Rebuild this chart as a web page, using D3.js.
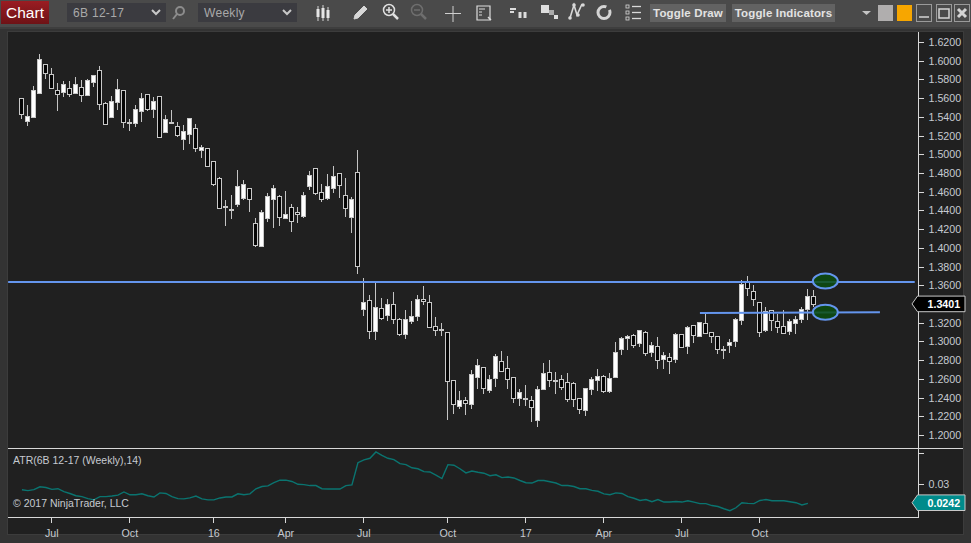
<!DOCTYPE html>
<html><head><meta charset="utf-8">
<script src="https://cdn.jsdelivr.net/npm/d3@7"></script>
<style>
html,body{margin:0;padding:0;background:#333;overflow:hidden}
svg{display:block}
text{font-family:"Liberation Sans",Arial,sans-serif}
</style></head><body><svg id="c" width="971" height="543"></svg>
<script>
const opens=[1.5606,1.5361,1.5404,1.5656,1.5970,1.5863,1.5692,1.5671,1.5713,1.5660,1.5724,1.5635,1.5777,1.5906,1.5553,1.5400,1.5564,1.5692,1.5343,1.5340,1.5468,1.5639,1.5485,1.5628,1.5240,1.5350,1.5297,1.5169,1.5222,1.5286,1.5051,1.5072,1.4923,1.4744,
1.4445,1.4412,1.4466,1.4526,1.4637,1.4263,1.4017,1.4316,1.4519,1.4551,1.4327,1.4434,1.4380,1.4334,1.4658,1.4850,1.4594,1.4526,1.4637,1.4797,1.4562,1.4324,1.4808,1.3345,1.3441,1.3110,1.3355,1.3280,1.3398,1.3238,1.3078,1.3227,1.3270,1.3451,1.3419,1.3163,
1.3130,1.3098,1.2585,1.2308,1.2372,1.2329,1.2617,1.2724,1.2475,1.2607,1.2788,1.2714,1.2617,1.2393,1.2397,1.2372,1.2158,1.2489,1.2671,1.2585,1.2596,1.2564,1.2553,1.2393,1.2265,1.2489,1.2585,1.2628,1.2464,1.2617,1.2917,1.3034,
1.3066,1.2980,1.3098,1.2888,1.2948,1.2810,1.2831,1.2806,1.3076,1.2948,1.3173,1.3055,1.3194,1.3098,1.3055,1.2916,1.2959,1.3002,1.3226,1.3632,1.3536,1.3418,1.3119,1.3333,1.3215,1.3162,1.3109,1.3194,1.3237,1.3344,1.3482];
const highs=[1.5606,1.5532,1.5727,1.6069,1.5970,1.5920,1.5763,1.5781,1.5781,1.5824,1.5792,1.5802,1.5852,1.5941,1.5557,1.5621,1.5802,1.5692,1.5382,1.5525,1.5653,1.5639,1.5617,1.5628,1.5418,1.5478,1.5340,1.5311,1.5393,1.5329,1.5094,1.5072,1.4923,1.4754,
1.4509,1.4562,1.4829,1.4722,1.4637,1.4316,1.4402,1.4583,1.4669,1.4562,1.4608,1.4466,1.4434,1.4594,1.4818,1.4850,1.4680,1.4790,1.4872,1.4797,1.4747,1.4541,1.5046,1.3676,1.3494,1.3650,1.3462,1.3451,1.3526,1.3248,1.3334,1.3430,1.3494,1.3594,1.3494,1.3262,
1.3198,1.3098,1.2585,1.2468,1.2407,1.2696,1.2813,1.2724,1.2639,1.2863,1.2899,1.2845,1.2617,1.2493,1.2532,1.2418,1.2521,1.2771,1.2803,1.2671,1.2639,1.2664,1.2564,1.2393,1.2500,1.2617,1.2706,1.2639,1.2664,1.2995,1.3045,1.3070,
1.3076,1.3119,1.3109,1.2991,1.3045,1.2884,1.2874,1.3087,1.3076,1.3162,1.3173,1.3205,1.3301,1.3098,1.3055,1.2948,1.3023,1.3247,1.3657,1.3700,1.3603,1.3422,1.3368,1.3336,1.3290,1.3333,1.3237,1.3269,1.3365,1.3557,1.3546];
const lows=[1.5375,1.5304,1.5404,1.5646,1.5802,1.5699,1.5464,1.5610,1.5614,1.5660,1.5557,1.5624,1.5717,1.5471,1.5315,1.5389,1.5471,1.5279,1.5247,1.5290,1.5343,1.5461,1.5386,1.5172,1.5226,1.5332,1.5183,1.5044,1.5108,1.5023,1.4959,1.4877,1.4660,1.4423,
1.4238,1.4313,1.4441,1.4512,1.4388,1.4014,1.4014,1.4281,1.4217,1.4238,1.4327,1.4174,1.4270,1.4324,1.4619,1.4569,1.4491,1.4512,1.4591,1.4537,1.4331,1.4163,1.3722,1.3277,1.3021,1.3010,1.3227,1.3216,1.3181,1.3063,1.3021,1.3191,1.3213,1.3384,1.3142,1.3062,
1.3062,1.2162,1.2226,1.2283,1.2219,1.2279,1.2493,1.2440,1.2450,1.2514,1.2671,1.2493,1.2343,1.2311,1.2311,1.2140,1.2087,1.2489,1.2514,1.2440,1.2482,1.2354,1.2301,1.2226,1.2205,1.2429,1.2472,1.2450,1.2450,1.2607,1.2852,1.2909,
1.2927,1.2941,1.2845,1.2834,1.2706,1.2706,1.2653,1.2770,1.2927,1.2867,1.2980,1.3044,1.3076,1.2980,1.2867,1.2813,1.2874,1.2938,1.3176,1.3486,1.3379,1.3048,1.3098,1.3112,1.3087,1.3076,1.3069,1.3080,1.3198,1.3230,1.3365];
const closes=[1.5436,1.5411,1.5692,1.6023,1.5873,1.5713,1.5646,1.5756,1.5646,1.5756,1.5639,1.5799,1.5852,1.5542,1.5325,1.5574,1.5703,1.5350,1.5340,1.5485,1.5606,1.5478,1.5574,1.5186,1.5382,1.5347,1.5197,1.5254,1.5393,1.5072,1.5080,1.4877,1.4674,1.4423,
1.4441,1.4402,1.4658,1.4680,1.4519,1.4028,1.4380,1.4551,1.4637,1.4324,1.4366,1.4284,1.4359,1.4562,1.4776,1.4580,1.4519,1.4658,1.4765,1.4669,1.4420,1.4519,1.3804,1.3419,1.3110,1.3366,1.3248,1.3398,1.3238,1.3078,1.3238,1.3277,1.3451,1.3430,1.3152,1.3120,
1.3119,1.2575,1.2329,1.2372,1.2340,1.2650,1.2746,1.2500,1.2596,1.2842,1.2685,1.2596,1.2393,1.2457,1.2393,1.2294,1.2489,1.2660,1.2585,1.2575,1.2511,1.2383,1.2383,1.2276,1.2500,1.2596,1.2628,1.2468,1.2607,1.2884,1.3034,1.3055,
1.2959,1.3119,1.2874,1.2959,1.2799,1.2852,1.2788,1.3076,1.2938,1.3151,1.3066,1.3205,1.3087,1.3055,1.2916,1.2913,1.2991,1.3237,1.3610,1.3568,1.3450,1.3098,1.3322,1.3226,1.3151,1.3087,1.3215,1.3237,1.3344,1.3482,1.3401];
const atr=[.0283,.0280,.0283,.0292,.0290,.0284,.0286,.0277,.0271,.0264,.0261,.0255,.0251,.0261,.0261,.0263,.0266,.0276,.0267,.0267,.0270,.0264,.0260,.0273,.0271,.0261,.0255,.0254,.0257,.0263,.0254,.0251,.0251,.0257,.0260,.0260,.0270,.0267,.0270,.0286,.0293,.0295,.0305,.0313,.0313,.0309,.0300,.0299,.0296,.0296,.0286,.0285,.0285,.0285,.0296,.0298,.0368,.0377,.0382,.0402,.0391,.0382,.0378,.0365,.0362,.0352,.0349,.0340,.0339,.0329,.0318,.0362,.0360,.0349,.0336,.0342,.0338,
.0335,.0327,.0330,.0321,.0323,.0320,.0312,.0305,.0304,.0312,.0312,.0308,.0304,.0296,.0296,.0293,.0286,.0286,.0281,.0278,.0270,.0267,.0273,.0271,.0261,.0256,.0249,.0252,.0245,.0252,.0244,.0244,.0246,.0244,.0248,.0244,.0239,.0239,.0233,.0230,.0223,.0217,.0226,.0242,.0240,.0239,.0249,.0252,.0248,.0248,.0248,.0245,.0242,.0235,.0240];
const timeTickIdx=[5,18,32,44,57,71,84,97,110,123];
const timeLabels=["Jul","Oct","16","Apr","Jul","Oct","17","Apr","Jul","Oct"];
const priceTicks=[1.2,1.22,1.24,1.26,1.28,1.3,1.32,1.36,1.38,1.4,1.42,1.44,1.46,1.48,1.5,1.52,1.54,1.56,1.58,1.6,1.62];
const atrTicks=[0.03,0.04];
const lastPrice=1.3401, lastAtr=0.0242;
const hLines=[{i0:-2.2,i1:148.9,p0:1.3636,p1:1.3636},{i0:113.1,i1:143.1,p0:1.3303,p1:1.3313}];
const markers=[{i:134,p:1.3645},{i:134,p:1.3312}];
const toolbarTexts={chart:"Chart",symbol:"6B 12-17",period:"Weekly",draw:"Toggle Draw",ind:"Toggle Indicators"};
const atrTitle="ATR(6B 12-17 (Weekly),14)", copyright="© 2017 NinjaTrader, LLC";

const svg=d3.select("#c");
const W=971,H=543;
const x=d3.scaleLinear().domain([0,132]).range([21.33,813.33]);
const y=d3.scaleLinear().domain([1.2,1.62]).range([435,42]);
const ya=d3.scaleLinear().domain([0.0242,0.03]).range([502.7,484.3]);
const axisC="#d8d8d8", txtC="#c6cad0";

// frame
svg.append("rect").attr("width",W).attr("height",H).attr("fill","#333333");
svg.append("rect").attr("width",W).attr("height",27).attr("fill","#4a4a4a");
svg.append("rect").attr("x",0).attr("y",27).attr("width",W).attr("height",2).attr("fill","#3e3e3e");
svg.append("rect").attr("x",7).attr("y",31).attr("width",W-14).attr("height",504).attr("fill","#202020");
svg.append("rect").attr("x",7.5).attr("y",31.5).attr("width",W-15).attr("height",503).attr("fill","none").attr("stroke","#3c3c3c");

// toolbar
const defs=svg.append("defs");
const g=defs.append("linearGradient").attr("id","red").attr("x1",0).attr("x2",0).attr("y1",0).attr("y2",1);
g.append("stop").attr("offset",0).attr("stop-color","#9a1c22");g.append("stop").attr("offset",1).attr("stop-color","#6e1216");
const tb=svg.append("g");
tb.append("rect").attr("x",1).attr("y",1).attr("width",48).attr("height",23).attr("fill","url(#red)");
tb.append("text").attr("x",25).attr("y",18).attr("text-anchor","middle").attr("font-size",15.5).attr("fill","#fff").text(toolbarTexts.chart);
[[67,166,73,toolbarTexts.symbol],[198,297,204,toolbarTexts.period]].forEach(([a,b,t,s])=>{
  tb.append("rect").attr("x",a).attr("y",3).attr("width",b-a).attr("height",19).attr("fill","#3b3b40");
  tb.append("text").attr("x",t).attr("y",17).attr("font-size",12).attr("fill","#a9a9a9").attr("letter-spacing",.3).text(s);
  tb.append("path").attr("d",`M${b-14} 10l4 4 4-4`).attr("fill","none").attr("stroke","#c8c8c8").attr("stroke-width",2);
});
const ic=(d,o={})=>tb.append("path").attr("d",d).attr("fill",o.f||"none").attr("stroke",o.s||"#d4d4d4").attr("stroke-width",o.w||1.5);
// search
tb.append("circle").attr("cx",180).attr("cy",11).attr("r",4).attr("fill","none").attr("stroke","#8c8c8c").attr("stroke-width",2);ic("M177 14l-4 5",{s:"#8c8c8c",w:2});
// candles icon
ic("M318 6v15M323 5v16M328 7v14",{w:1});ic("M318 9v8M323 8v10M328 10v8",{w:3,s:"#e6e6e6"});
// pencil
ic("M354 19l1-4 9-9 3 3-9 9z",{f:"#d8d8d8",w:1});
// zoom in/out
tb.append("circle").attr("cx",389).attr("cy",10).attr("r",5.5).attr("fill","none").attr("stroke","#e0e0e0").attr("stroke-width",1.5);ic("M393 14l5 5",{s:"#e0e0e0",w:2.5});ic("M386 10h6M389 7v6",{s:"#e0e0e0"});
tb.append("circle").attr("cx",417).attr("cy",10).attr("r",5.5).attr("fill","none").attr("stroke","#6e6e6e").attr("stroke-width",1.5);ic("M421 14l5 5",{s:"#6e6e6e",w:2.5});ic("M414 10h6",{s:"#6e6e6e"});
// crosshair
ic("M445 13.5h16M453 6v16",{s:"#cfcfcf",w:1});
// report
ic("M477 6h13v14h-13z",{s:"#dcdcdc",w:1.2});ic("M479 9h6M479 12h3M479 15h3",{s:"#dcdcdc",w:1});ic("M488 17l3 3",{s:"#dcdcdc",w:1.5});
// properties
ic("M510 9h6M510 12h4",{s:"#dcdcdc",w:2});ic("M520 12v6M525 12v6",{s:"#dcdcdc",w:3});
// squares
tb.append("rect").attr("x",541).attr("y",5).attr("width",8).attr("height",8).attr("fill","#dedede");tb.append("rect").attr("x",549).attr("y",10).attr("width",5).attr("height",5).attr("fill","#aaa");tb.append("rect").attr("x",554).attr("y",15).attr("width",4).attr("height",4).attr("fill","#dedede");
// N
ic("M570 18l4-13 3 10 5-11",{s:"#d8d8d8",w:1.6});[[570,18],[574,5],[578,15],[583,5]].forEach(p=>tb.append("circle").attr("cx",p[0]).attr("cy",p[1]).attr("r",1.8).attr("fill","#d8d8d8"));
// refresh
tb.append("circle").attr("cx",604).attr("cy",12.5).attr("r",6).attr("fill","none").attr("stroke","#d4d4d4").attr("stroke-width",3).attr("stroke-dasharray","30 4");
// list
[6,12,18].forEach(v=>{tb.append("rect").attr("x",626).attr("y",v-1).attr("width",3).attr("height",3).attr("fill","none").attr("stroke","#d8d8d8").attr("stroke-width",.8);ic(`M632 ${v+.5}h9`,{s:"#d8d8d8",w:1.3});});
// buttons
[[650,76,toolbarTexts.draw],[732,103,toolbarTexts.ind]].forEach(([a,w,s])=>{
  tb.append("rect").attr("x",a).attr("y",4).attr("width",w).attr("height",18).attr("fill","#626262");
  tb.append("text").attr("x",a+w/2).attr("y",17).attr("text-anchor","middle").attr("font-size",11.5).attr("font-weight","bold").attr("fill","#e2e2e2").attr("letter-spacing",.15).text(s);
});
tb.append("path").attr("d","M862 11h9l-4.5 4z").attr("fill","#c4c4c4");
tb.append("rect").attr("x",878).attr("y",5).attr("width",15).attr("height",16).attr("fill","#b0aeae");
tb.append("rect").attr("x",897).attr("y",5).attr("width",15).attr("height",16).attr("fill","#f7a600");
[[916,"M919 17h10"],[936,"M939 9h10v9h-10z"],[954,"M958 9l8 8M966 9l-8 8"]].forEach(([a,d],k)=>{
  tb.append("rect").attr("x",a+.5).attr("y",4.5).attr("width",15).attr("height",17).attr("fill","#4a4a4a").attr("stroke","#9a9a9a");
  ic(d,{s:"#d4d4d4",w:k==2?3:1.5});
});

// panel lines
const pl=svg.append("g").attr("stroke",axisC).attr("stroke-width",1).attr("shape-rendering","crispEdges");
pl.append("line").attr("x1",8).attr("x2",963).attr("y1",448.5).attr("y2",448.5);
pl.append("line").attr("x1",8).attr("x2",918.5).attr("y1",517.5).attr("y2",517.5);
pl.append("line").attr("x1",918.5).attr("x2",918.5).attr("y1",32).attr("y2",517.5);

const fs=10.7;
// price axis
const ax=svg.append("g").attr("transform","translate(918.5,0)").call(d3.axisRight(y).tickValues(priceTicks).tickSize(5).tickPadding(5).tickFormat(d3.format(".4f")));
ax.select(".domain").remove();
ax.selectAll("line").attr("stroke",axisC).attr("shape-rendering","crispEdges");
ax.selectAll("text").attr("fill",txtC).attr("font-size",fs).attr("font-family","Liberation Sans");

// atr axis
const aa=svg.append("g").attr("transform","translate(918.5,0)").call(d3.axisRight(ya).tickValues(atrTicks).tickSize(5).tickPadding(5).tickFormat(d=>d===0.03?"0.03":""));
aa.select(".domain").remove();
aa.selectAll("line").attr("stroke",axisC).attr("shape-rendering","crispEdges");
aa.selectAll("text").attr("fill",txtC).attr("font-size",fs).attr("font-family","Liberation Sans");

// time axis
const ta=svg.append("g").attr("transform","translate(0,517.5)").call(d3.axisBottom(x).tickValues(timeTickIdx).tickSize(5).tickPadding(7).tickFormat((d,i)=>timeLabels[i]));
ta.select(".domain").remove();
ta.selectAll("line").attr("stroke",axisC).attr("shape-rendering","crispEdges");
ta.selectAll("text").attr("fill",txtC).attr("font-size",fs).attr("font-family","Liberation Sans");

// candles
const idx=d3.range(opens.length);
const cg=svg.append("g");
cg.selectAll("line").data(idx).join("line")
  .attr("x1",i=>Math.round(x(i))+.5).attr("x2",i=>Math.round(x(i))+.5)
  .attr("y1",i=>y(highs[i])).attr("y2",i=>y(lows[i]))
  .attr("stroke","#c4c4c4").attr("stroke-width",1).attr("shape-rendering","crispEdges");
cg.selectAll("rect").data(idx).join("rect")
  .attr("x",i=>Math.round(x(i))-1.5).attr("width",4)
  .attr("y",i=>Math.round(y(Math.max(opens[i],closes[i])))+.5)
  .attr("height",i=>Math.max(1,Math.round(Math.abs(y(opens[i])-y(closes[i])))))
  .attr("fill",i=>closes[i]>=opens[i]?"#ffffff":"#050505")
  .attr("stroke","#c8c8c8").attr("stroke-width",1).attr("shape-rendering","crispEdges");

// drawn lines
svg.append("g").selectAll("line").data(hLines).join("line")
  .attr("x1",d=>x(d.i0)).attr("x2",d=>x(d.i1)).attr("y1",d=>y(d.p0)).attr("y2",d=>y(d.p1))
  .attr("stroke","#6495ed").attr("stroke-width",2);
svg.append("g").selectAll("ellipse").data(markers).join("ellipse")
  .attr("cx",d=>x(d.i)).attr("cy",d=>y(d.p)).attr("rx",12.5).attr("ry",7.5)
  .attr("fill","#0c4d10").attr("fill-opacity",.85).attr("stroke","#6495ed").attr("stroke-width",2);

// atr line
svg.append("path").attr("d",d3.line().x((d,i)=>x(i)+.6).y(d=>ya(d))(atr)).attr("fill","none").attr("stroke","#0a7470").attr("stroke-width",1.4);

svg.append("text").attr("x",13).attr("y",464).attr("font-size",10.5).attr("fill",txtC).text(atrTitle);
svg.append("text").attr("x",13).attr("y",507).attr("font-size",10.5).attr("fill",txtC).text(copyright);

// flags
const flag=(yy,fill,txt,stroke)=>{
  svg.append("path").attr("d",`M965 ${yy-7.8}H917.5L912 ${yy}L917.5 ${yy+7.8}H965Z`).attr("fill",fill).attr("stroke",stroke);
  svg.append("text").attr("x",927.5).attr("y",yy+4).attr("font-size",fs).attr("font-weight","bold").attr("fill","#fff").text(txt);
};
flag(y(lastPrice),"#000",d3.format(".4f")(lastPrice),"#c8c8c8");
flag(ya(lastAtr),"#008b8b",d3.format(".4f")(lastAtr),"#c8c8c8");
</script></body></html>
